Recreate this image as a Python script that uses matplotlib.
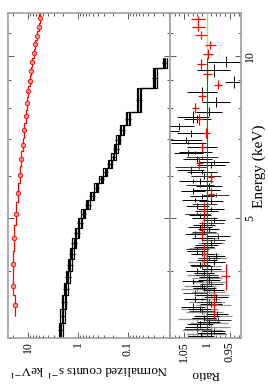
import matplotlib.pyplot as plt
import numpy as np
from matplotlib.ticker import FixedLocator, FixedFormatter, NullFormatter, MultipleLocator

plt.rcParams['font.family'] = ['Liberation Serif', 'DejaVu Serif']
plt.rcParams['mathtext.fontset'] = 'stix'

# red spectrum: bin edges (keV), counts s^-1 keV^-1
red_edges = [3.3, 3.6, 3.9, 4.35, 4.85, 5.35, 5.8, 6.25, 6.65, 7.05, 7.5, 7.95,
             8.4, 8.8, 9.2, 9.55, 9.9, 10.3, 10.7, 11.1, 11.5, 12.0]
red_counts = [18.0, 19.5, 20.0, 19.0, 17.2, 16.0, 14.7, 13.7, 12.6, 11.8, 11.0,
              10.4, 9.8, 9.2, 8.6, 8.1, 7.6, 7.1, 6.6, 6.1, 5.6]

# black spectra (several observations, same shape, different norm)
black_edges = [3.0, 3.2, 3.4, 3.6, 3.8, 4.0, 4.2, 4.4, 4.6, 4.8, 5.0, 5.2, 5.4,
               5.6, 5.8, 6.0, 6.2, 6.4, 6.6, 6.85, 7.13, 7.44, 7.86, 8.7, 9.5, 9.92]
black_counts = [2.3, 2.1, 1.95, 1.8, 1.65, 1.5, 1.38, 1.22, 1.08, 0.93, 0.8, 0.66,
                0.54, 0.44, 0.35, 0.29, 0.235, 0.2, 0.18, 0.16, 0.135, 0.103,
                0.062, 0.030, 0.019]
black_norms = [0.88, 0.94, 1.0, 1.06]

# ratio panel, black points
ratio_e = [3.03, 3.09, 3.15, 3.21, 3.27, 3.33, 3.40, 3.47, 3.54, 3.61, 3.68, 3.75,
           3.82, 3.89, 3.96, 4.03, 4.10, 4.18, 4.26, 4.34, 4.42, 4.50, 4.59, 4.68,
           4.77, 4.86, 4.96, 5.06, 5.16, 5.27, 5.38, 5.49, 5.61, 5.73, 5.86, 5.99,
           6.13, 6.28, 6.44, 6.61, 6.79, 6.98, 7.18, 7.40, 7.63, 7.88, 8.20, 8.55,
           8.95, 9.40, 9.75]
ratio_de = [0.04, 0.04, 0.04, 0.04, 0.04, 0.04, 0.045, 0.045, 0.045, 0.045, 0.045,
            0.045, 0.045, 0.045, 0.05, 0.05, 0.05, 0.05, 0.05, 0.05, 0.05, 0.05,
            0.055, 0.055, 0.055, 0.055, 0.06, 0.06, 0.06, 0.06, 0.065, 0.065,
            0.07, 0.07, 0.075, 0.075, 0.08, 0.08, 0.09, 0.09, 0.1, 0.1, 0.11,
            0.12, 0.12, 0.15, 0.17, 0.2, 0.22, 0.25, 0.22]
ratio_r = [1.012, 0.985, 1.02, 0.995, 1.005, 0.978, 1.015, 0.99, 1.025, 1.0, 0.985,
           1.01, 1.03, 0.995, 1.005, 0.99, 1.015, 1.0, 0.98, 1.02, 1.005, 0.99,
           1.01, 1.025, 0.995, 1.005, 0.985, 1.015, 1.0, 1.02, 0.99, 1.01, 1.03,
           0.995, 1.015, 1.005, 1.035, 0.99, 1.02, 1.04, 1.01, 1.045, 1.035, 1.06,
           1.02, 0.995, 0.98, 1.01, 0.94, 0.985, 0.958]
ratio_err = [0.028, 0.026, 0.027, 0.025, 0.026, 0.024, 0.025, 0.024, 0.024, 0.023,
             0.022, 0.022, 0.023, 0.022, 0.022, 0.021, 0.022, 0.022, 0.021, 0.022,
             0.022, 0.022, 0.023, 0.023, 0.023, 0.024, 0.024, 0.024, 0.025, 0.025,
             0.026, 0.026, 0.027, 0.028, 0.028, 0.029, 0.03, 0.03, 0.031, 0.032,
             0.033, 0.034, 0.03, 0.032, 0.03, 0.028, 0.03, 0.032, 0.02, 0.035, 0.04]

ratio2_e = [3.06, 3.18, 3.30, 3.43, 3.57, 3.71, 3.85, 3.99, 4.14, 4.30, 4.46, 4.63,
            4.81, 5.00, 5.20, 5.41, 5.63, 5.86, 6.10, 6.35, 6.62, 6.90, 7.25, 7.70]
ratio2_de = [0.05] * 22 + [0.15, 0.2]
ratio2_r = [0.99, 1.015, 1.0, 1.03, 0.98, 1.005, 0.995, 1.02, 0.985, 1.01, 1.0, 0.975,
            1.015, 1.005, 0.99, 1.025, 1.0, 1.03, 1.01, 0.985, 1.025, 1.04, 1.09, 1.03]
ratio2_err = [0.03, 0.028, 0.027, 0.027, 0.026, 0.025, 0.024, 0.024, 0.024, 0.025,
              0.025, 0.026, 0.026, 0.027, 0.028, 0.029, 0.03, 0.031, 0.032, 0.034,
              0.036, 0.038, 0.03, 0.035]

ratio3_e = [3.12, 3.24, 3.37, 3.50, 3.64, 3.78, 3.93, 4.07, 4.22, 4.38, 4.55, 4.72,
            4.90, 5.10, 5.31, 5.52, 5.75, 5.98, 6.22, 6.48]
ratio3_r = [1.02, 0.975, 1.01, 0.995, 1.025, 0.99, 1.0, 1.01, 0.995, 1.02, 0.985,
            1.005, 0.99, 1.02, 1.005, 0.98, 1.015, 1.0, 1.035, 1.01]
ratio3_err = [0.03, 0.029, 0.028, 0.027, 0.026, 0.025, 0.025, 0.024, 0.024, 0.025,
              0.025, 0.026, 0.027, 0.027, 0.028, 0.029, 0.03, 0.031, 0.033, 0.035]

# ratio panel, grey points
gray_e = [3.05, 3.1, 3.15, 3.2, 3.25, 3.3, 3.35, 3.4, 3.45, 3.5, 3.55, 3.6, 3.65,
          3.7, 3.75, 3.81, 3.87, 3.93, 4.0, 4.07, 4.15, 4.22, 4.3, 4.4, 4.5, 4.6, 4.7]
gray_r = [1.0, 1.01, 0.99, 0.995, 1.02, 0.985, 1.005, 1.015, 0.985, 1.0, 1.01, 0.99,
          0.995, 1.02, 1.015, 0.995, 1.0, 1.01, 0.99, 1.0, 1.01, 0.985, 1.0, 1.01,
          0.99, 1.0, 1.005]
gray_err = [0.045, 0.044, 0.04, 0.042, 0.042, 0.041, 0.04, 0.04, 0.038, 0.039, 0.04,
            0.038, 0.036, 0.036, 0.035, 0.034, 0.033, 0.032, 0.03, 0.031, 0.03, 0.03,
            0.028, 0.029, 0.028, 0.028, 0.03]

# ratio panel, red points
red_re = [3.47, 3.9, 4.3, 4.75, 5.15, 5.55, 5.95, 6.33, 6.78, 7.19, 7.63, 8.0, 8.41,
          8.84, 9.27, 9.67, 10.08, 10.47, 10.93, 11.30, 11.69]
red_rde = [0.2, 0.22, 0.2, 0.2, 0.18, 0.15, 0.15, 0.15, 0.15, 0.15, 0.18, 0.18, 0.18,
           0.18, 0.2, 0.2, 0.2, 0.2, 0.2, 0.18, 0.18]
red_r = [0.984, 0.958, 1.005, 1.011, 1.006, 0.991, 0.990, 1.016, 1.010, 1.001, 1.016,
         1.025, 1.010, 0.975, 0.999, 1.012, 0.997, 0.992, 1.012, 1.018, 1.019]
red_rerr = [0.008, 0.01, 0.007, 0.006, 0.006, 0.006, 0.006, 0.007, 0.007, 0.008,
            0.008, 0.008, 0.009, 0.009, 0.01, 0.01, 0.011, 0.012, 0.013, 0.015, 0.016]

fig = plt.figure(figsize=(2.68, 3.84), dpi=100)
ax1 = fig.add_axes([8/268, 46/384, 162/268, 325/384])
ax2 = fig.add_axes([170/268, 46/384, 71/268, 325/384], sharey=ax1)

# counts panel
re = np.array(red_edges)
rc_mid = np.sqrt(re[:-1] * re[1:])
ax1.stairs(red_counts, red_edges, orientation='horizontal', baseline=None,
           color='red', lw=0.9)
ax1.errorbar(red_counts, rc_mid, yerr=[rc_mid - re[:-1], re[1:] - rc_mid],
             xerr=np.array(red_counts) * 0.02, fmt='o', ms=3.2, color='red',
             mfc='#ff9090', mec='red', mew=0.6, elinewidth=0.7)

be = np.array(black_edges)
bmid = np.sqrt(be[:-1] * be[1:])
for n in black_norms:
    bc = np.array(black_counts) * n
    ax1.stairs(bc, black_edges, orientation='horizontal', baseline=None,
               color='black', lw=0.8)
    ax1.errorbar(bc, bmid, yerr=[bmid - be[:-1], be[1:] - bmid], xerr=bc * 0.04,
                 fmt='none', ecolor='black', elinewidth=0.8)

# ratio panel
ax2.axvline(1, color='#80ff80', lw=1.0)
ax2.errorbar(gray_r, gray_e, xerr=gray_err, yerr=0.03, fmt='none',
             ecolor='#909090', elinewidth=0.9)
ax2.errorbar(ratio_r, ratio_e, xerr=ratio_err, yerr=ratio_de, fmt='none',
             ecolor='black', elinewidth=0.7)
ax2.errorbar(ratio2_r, ratio2_e, xerr=ratio2_err, yerr=ratio2_de, fmt='none',
             ecolor='black', elinewidth=0.7)
ax2.errorbar(ratio3_r, ratio3_e, xerr=ratio3_err, yerr=0.04, fmt='none',
             ecolor='#303030', elinewidth=0.7)
ax2.plot([1, 1], [3.0, 9.92], color='#008000', lw=0.7)
ax2.errorbar(red_r, red_re, xerr=red_rerr, yerr=red_rde, fmt='none',
             ecolor='red', elinewidth=0.9)

# axes styling
ax1.set_xscale('log')
ax1.set_yscale('log')
ax1.set_xlim(25, 0.0143)
ax1.set_ylim(3, 12)
ax2.set_xlim(1.08, 0.925)

for ax in (ax1, ax2):
    for s in ax.spines.values():
        s.set_color('#a0a0a0')
        s.set_linewidth(1.2)
    ax.yaxis.set_major_locator(FixedLocator([5, 10]))
    ax.yaxis.set_minor_locator(FixedLocator([3, 4, 6, 7, 8, 9, 11, 12]))
    ax.yaxis.set_minor_formatter(NullFormatter())
    ax.tick_params(which='both', direction='in', top=True, right=True,
                   left=True, bottom=True, color='#404040', width=0.6,
                   labelsize=8.5, pad=2)
    ax.tick_params(which='major', length=4)
    ax.tick_params(which='minor', length=2)
    ax.tick_params(axis='x', labelrotation=90)

ax1.xaxis.set_major_locator(FixedLocator([10, 1, 0.1]))
ax1.xaxis.set_major_formatter(FixedFormatter(['10', '1', '0.1']))
ax1.tick_params(axis='y', labelleft=False)

ax2.xaxis.set_major_locator(FixedLocator([1.05, 1.0, 0.95]))
ax2.xaxis.set_major_formatter(FixedFormatter(['1.05', '1', '0.95']))
ax2.xaxis.set_minor_locator(MultipleLocator(0.01))
ax2.yaxis.set_major_formatter(FixedFormatter(['5', '10']))
ax2.tick_params(axis='y', labelleft=False, labelright=True, labelrotation=90)
for t in ax2.get_yticklabels():
    t.set_va('center')

ax1.set_xlabel('Normalized counts s$^{-1}$ keV$^{-1}$', rotation=180,
               fontsize=9.5, labelpad=5)
ax2.set_xlabel('Ratio', rotation=180, fontsize=9.5, labelpad=5)
ax2.yaxis.set_label_position('right')
ax2.set_ylabel('Energy (keV)', rotation=90, fontsize=11)
ax2.yaxis.set_label_coords(1.165, 0.53)

fig.savefig('out.png', dpi=100)
